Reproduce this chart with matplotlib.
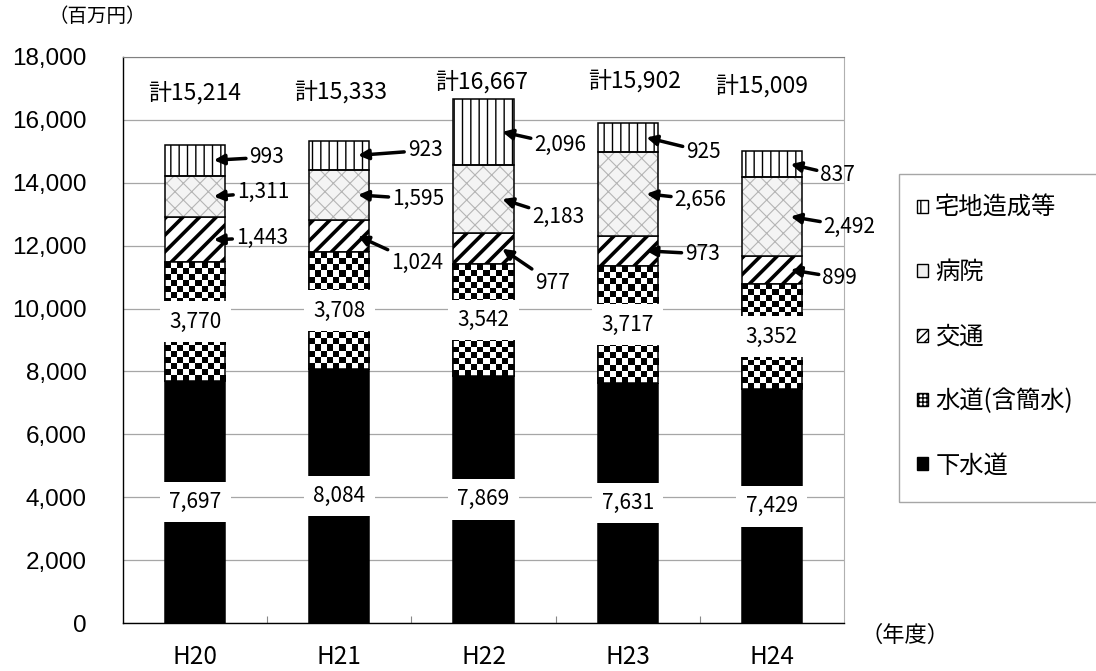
import numpy as np
import matplotlib
matplotlib.use("Agg")
import matplotlib.pyplot as plt
from matplotlib.patches import Rectangle

plt.rcParams['font.family'] = ['Noto Sans CJK JP', 'DejaVu Sans']

# 年度別の内訳（百万円）
years = ["H20", "H21", "H22", "H23", "H24"]
gesuido = [7697, 8084, 7869, 7631, 7429]      # 下水道
suido = [3770, 3708, 3542, 3717, 3352]        # 水道(含簡水)
kotsu = [1443, 1024, 977, 973, 899]           # 交通
byoin = [1311, 1595, 2183, 2656, 2492]        # 病院
takuchi = [993, 923, 2096, 925, 837]          # 宅地造成等
totals = [15214, 15333, 16667, 15902, 15009]

# label placement (pixels): arrow labels per year -> (takuchi, byoin, kotsu)
arrow_offsets = [
    [(53, 3), (49, 4), (48, 2)],
    [(67, 5), (60, -4), (59, -27)],
    [(58, -13), (56, -18), (50, -34)],
    [(57, -14), (54, -6), (56, -3)],
    [(47, -11), (59, -10), (49, -8)],
]
total_offsets = [(0, 52), (1, 49), (-2, 17), (7, 42), (-10, 65)]

W, H = 1096, 671
fig = plt.figure(figsize=(W / 100, H / 100), dpi=100)
ax = fig.add_axes([123 / W, (H - 623) / H, (844 - 123) / W, (623 - 57) / H])

x = np.arange(len(years))
bw = 0.417
g = np.array(gesuido)
s = np.array(suido)
k = np.array(kotsu)
b = np.array(byoin)
t = np.array(takuchi)

ax.set_xlim(-0.5, 4.5)
ax.set_ylim(0, 18000)

ax.bar(x, g, bw, color="black", edgecolor="black", lw=1.1, zorder=3)

# checkered water segments
suido_bars = ax.bar(x, s, bw, bottom=g, color="white", edgecolor="black", lw=1.1, zorder=3)
px_per_y = (623 - 57) / 18000
for i, bar in enumerate(suido_bars):
    ncol = 10
    nrow = max(1, int(round(s[i] * px_per_y / 6)))
    checker = (np.indices((nrow, ncol)).sum(axis=0) % 2).astype(float)
    im = ax.imshow(checker, cmap="gray", interpolation="nearest", aspect="auto",
                   extent=(x[i] - bw / 2, x[i] + bw / 2, g[i], g[i] + s[i]),
                   vmin=0, vmax=1, zorder=3.5)
    im.set_clip_path(bar)
ax.bar(x, s, bw, bottom=g, fill=False, edgecolor="black", lw=1.1, zorder=4)

with plt.rc_context({"hatch.linewidth": 2.6}):
    ax.bar(x, k, bw, bottom=g + s, color="white", edgecolor="black", hatch="//", lw=1.1, zorder=3)

with plt.rc_context({"hatch.linewidth": 0.8}):
    ax.bar(x, b, bw, bottom=g + s + k, color="#f4f4f4", edgecolor="#b5b5b5", hatch="xx", lw=0, zorder=3)
ax.bar(x, b, bw, bottom=g + s + k, fill=False, edgecolor="black", lw=1.1, zorder=4)

with plt.rc_context({"hatch.linewidth": 1.0}):
    ax.bar(x, t, bw, bottom=g + s + k + b, color="white", edgecolor="black", hatch="||", lw=1.1, zorder=3)

ax.set_xlim(-0.5, 4.5)
ax.set_ylim(0, 18000)

# centred labels for the two lower segments
for i in range(len(years)):
    for val, mid in [(g[i], g[i] / 2), (s[i], g[i] + s[i] / 2)]:
        ax.text(x[i], mid, f"{val:,}", ha="center", va="center", fontsize=15, zorder=6,
                bbox=dict(boxstyle="square,pad=0.45", fc="white", ec="none"))

# arrow labels for the upper segments
for i in range(len(years)):
    segs = [(t[i], g[i] + s[i] + k[i] + b[i] + t[i] / 2),
            (b[i], g[i] + s[i] + k[i] + b[i] / 2),
            (k[i], g[i] + s[i] + k[i] / 2)]
    for (val, mid), (dx, dy) in zip(segs, arrow_offsets[i]):
        ax.annotate(f"{val:,}", xy=(x[i] + 0.13, mid), xytext=(dx, dy),
                    textcoords="offset pixels", ha="center", va="center", fontsize=15,
                    zorder=7,
                    bbox=dict(boxstyle="square,pad=0.1", fc="none", ec="none"),
                    arrowprops=dict(arrowstyle="-|>", color="black", lw=2.5,
                                    mutation_scale=15, shrinkA=1, shrinkB=0))

for i, (dx, dy) in enumerate(total_offsets):
    ax.annotate(f"計{totals[i]:,}", xy=(x[i], totals[i]), xytext=(dx, dy),
                textcoords="offset pixels", ha="center", va="center", fontsize=16.5, zorder=7)

# axes styling
ax.set_yticks(np.arange(0, 18001, 2000))
ax.set_yticklabels([f"{v:,}" for v in range(0, 18001, 2000)], family="Liberation Sans", fontsize=17.5)
ax.set_xticks(x)
ax.set_xticklabels(years, fontsize=17.5)
ax.set_xticks(x[:-1] + 0.5, minor=True)
ax.tick_params(axis="y", length=0, pad=26)
ax.tick_params(axis="x", which="major", length=0, pad=15)
ax.tick_params(axis="x", which="minor", direction="in", length=5, color="#888888", width=0.8)
ax.yaxis.grid(True, color="#a6a6a6", lw=0.9, zorder=0)
ax.set_axisbelow(True)
for side in ["left", "bottom"]:
    ax.spines[side].set_color("black")
    ax.spines[side].set_linewidth(1.0)
ax.spines["top"].set_color("#808080")
ax.spines["right"].set_color("#b0b0b0")
for sp in ax.spines.values():
    sp.set_zorder(2)

fig.text(97 / W, 1 - 17 / H, "（百万円）", ha="center", va="center", fontsize=14)
fig.text(905 / W, 1 - 635 / H, "（年度）", ha="center", va="center", fontsize=16)

# legend
fig.patches.append(Rectangle((899 / W, 1 - 502 / H), 0.2, (502 - 174) / H,
                             transform=fig.transFigure, fill=False, ec="#a6a6a6", lw=1.0))
handles = [
    Rectangle((0, 0), 1, 1, fc="white", ec="black", hatch="||", lw=1.0),
    Rectangle((0, 0), 1, 1, fc="#f0f0f0", ec="black", lw=1.0),
    Rectangle((0, 0), 1, 1, fc="white", ec="black", hatch="////", lw=1.0),
    Rectangle((0, 0), 1, 1, fc="white", ec="black", hatch="++++", lw=1.0),
    Rectangle((0, 0), 1, 1, fc="black", ec="black", lw=1.0),
]
labels = ["宅地造成等", "病院", "交通", "水道(含簡水)", "下水道"]
fig.legend(handles, labels, loc="upper left", bbox_to_anchor=(917 / W, 1 - 195 / H),
           frameon=False, fontsize=17.5, handlelength=0.45, handleheight=0.45,
           handletextpad=0.3, labelspacing=1.58, borderpad=0, borderaxespad=0)

fig.savefig("out.png", dpi=100)
